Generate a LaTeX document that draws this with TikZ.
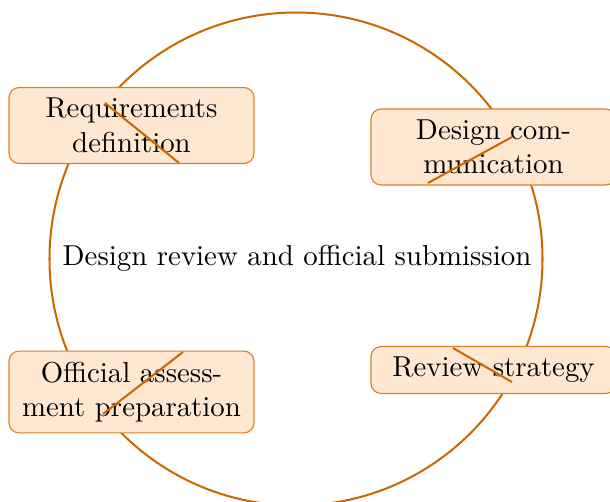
\documentclass[tikz,border=0pt]{standalone}
\usetikzlibrary{positioning}
\definecolor{ringorange}{RGB}{204,102,0}
\definecolor{boxfill}{RGB}{255,231,210}
\definecolor{boxline}{RGB}{222,128,40}
\begin{document}
\begin{tikzpicture}[x = 0.347pt, y = -0.347pt,
        ring/.style = {draw = ringorange, line width = 0.7pt},
        stagebox/.style = {draw = boxline, fill = boxfill, rounded corners = 3.5pt,
            minimum width = 85pt, inner ysep = 3.7pt, align = center}]
        \useasboundingbox (0, 0) rectangle (610, 501);
        \draw[ring] (296, 259) circle (246.5);
        \node (centre) at (297, 258) {Design review and official submission};
        \node[stagebox] (req) at (131.5, 125.5) {Requirements\\definition};
        \node[stagebox] (comm) at (493.5, 147) {Design com-\\munication};
        \node[stagebox] (assess) at (131.5, 392) {Official assess-\\ment preparation};
        \node[stagebox, minimum height = 15.2pt] (strat) at (493.5, 370) {Review strategy};
        \coordinate (a1) at (105, 103);
        \coordinate (a2) at (179, 163);
        \coordinate (b1) at (512, 137);
        \coordinate (b2) at (428, 183);
        \coordinate (c1) at (183, 352);
        \coordinate (c2) at (103, 414);
        \coordinate (d1) at (453, 348);
        \coordinate (d2) at (512, 382);
        \draw[ring] (a1) -- (a2);
        \draw[ring] (b1) -- (b2);
        \draw[ring] (c1) -- (c2);
        \draw[ring] (d1) -- (d2);
        \end{tikzpicture}
\end{document}
